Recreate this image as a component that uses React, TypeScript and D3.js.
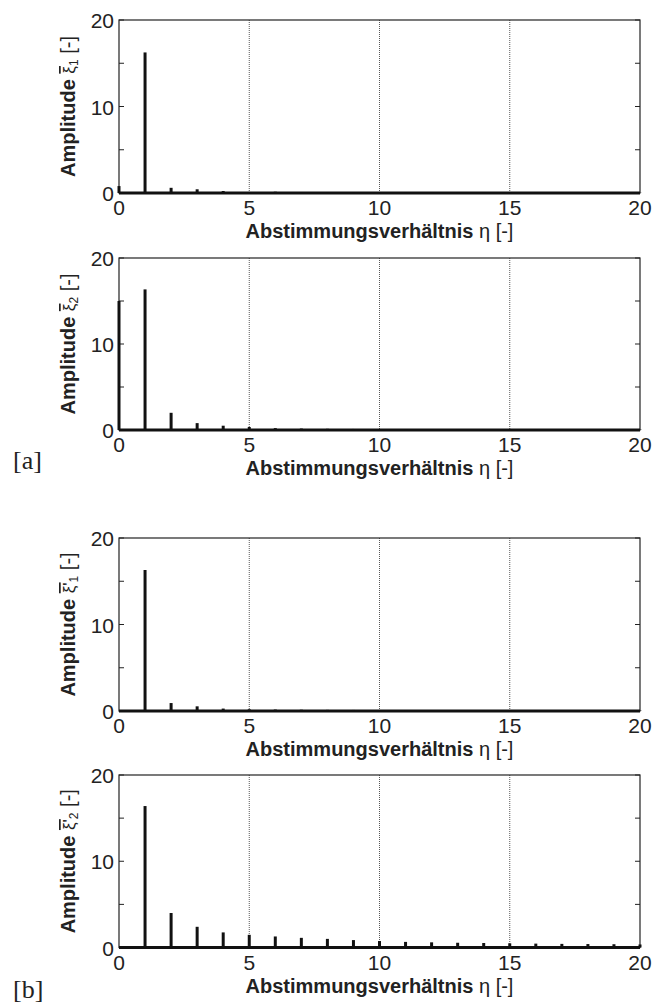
import React from "react";
import * as d3 from "d3";

const etaValues: number[] = d3.range(0, 21);
const xTicks: number[] = [0, 5, 10, 15, 20];
const yTicks: number[] = [0, 10, 20];
const yMinorTicks: number[] = [5, 15];
const gridX: number[] = [5, 10, 15];

const amp1a: number[] = [0.8, 16.25, 0.6, 0.43, 0.23, 0.12, 0.15, 0.08, 0.07, 0.06, 0.05, 0.05, 0.04, 0.04, 0.04, 0.03, 0.03, 0.03, 0.03, 0.03, 0.03];
const amp2a: number[] = [15.0, 16.35, 2.0, 0.8, 0.5, 0.35, 0.22, 0.17, 0.14, 0.12, 0.1, 0.09, 0.08, 0.07, 0.07, 0.06, 0.06, 0.05, 0.05, 0.05, 0.05];
const amp1b: number[] = [0, 16.3, 0.92, 0.54, 0.28, 0.2, 0.17, 0.15, 0.13, 0.12, 0.1, 0.09, 0.08, 0.08, 0.07, 0.07, 0.06, 0.06, 0.06, 0.05, 0.05];
const amp2b: number[] = [0, 16.4, 4.0, 2.4, 1.75, 1.47, 1.28, 1.12, 1.0, 0.86, 0.75, 0.65, 0.6, 0.55, 0.52, 0.48, 0.45, 0.42, 0.4, 0.38, 0.35];

const xTitleBold = "Abstimmungsverhältnis";
const xTitleRest = " η [-]";

type PanelDef = { top: number; bottom: number; values: number[]; prime: boolean; sub: string };

const panels: PanelDef[] = [
  { top: 20, bottom: 193, values: amp1a, prime: false, sub: "1" },
  { top: 258, bottom: 430, values: amp2a, prime: false, sub: "2" },
  { top: 538, bottom: 711, values: amp1b, prime: true, sub: "1" },
  { top: 775, bottom: 947.5, values: amp2b, prime: true, sub: "2" },
];

const LEFT = 119;
const RIGHT = 640;
const FONT = "Liberation Sans, Arial, sans-serif";

function Panel({ p }: { p: PanelDef }) {
  const x = d3.scaleLinear().domain([0, 20]).range([LEFT, RIGHT]);
  const y = d3.scaleLinear().domain([0, 20]).range([p.bottom, p.top]);
  const midY = (p.top + p.bottom) / 2;
  return (
    <g>
      {gridX.map((g) => (
        <line key={"g" + g} x1={x(g)} x2={x(g)} y1={y(20)} y2={y(0)} stroke="#444" strokeWidth={0.9} strokeDasharray="1,1" />
      ))}
      <rect x={LEFT} y={p.top} width={RIGHT - LEFT} height={p.bottom - p.top} fill="none" stroke="#222" strokeWidth={1.2} />
      {yMinorTicks.concat(yTicks).map((t) => (
        <g key={"t" + t}>
          <line x1={LEFT} x2={LEFT + 5} y1={y(t)} y2={y(t)} stroke="#222" strokeWidth={1} />
          <line x1={RIGHT} x2={RIGHT - 5} y1={y(t)} y2={y(t)} stroke="#222" strokeWidth={1} />
        </g>
      ))}
      <line x1={x(0)} x2={x(20)} y1={y(0)} y2={y(0)} stroke="#111" strokeWidth={3} />
      {etaValues.map((e, i) => (
        <line key={"b" + e} x1={x(e)} x2={x(e)} y1={y(0)} y2={y(p.values[i])} stroke="#111" strokeWidth={3} />
      ))}
      {yTicks.map((t) => (
        <text key={"yl" + t} x={LEFT - 5} y={y(t) + 8} textAnchor="end" fontFamily={FONT} fontSize={21} fill="#222">
          {t}
        </text>
      ))}
      {xTicks.map((t) => (
        <text key={"xl" + t} x={x(t)} y={p.bottom + 22} textAnchor="middle" fontFamily={FONT} fontSize={21} fill="#222">
          {t}
        </text>
      ))}
      <text x={(LEFT + RIGHT) / 2} y={p.bottom + 45} textAnchor="middle" fontFamily={FONT} fontSize={20} fill="#222">
        <tspan fontWeight="bold">{xTitleBold}</tspan>
        <tspan>{xTitleRest}</tspan>
      </text>
      <text transform={`translate(75,${midY}) rotate(-90)`} textAnchor="middle" fontFamily={FONT} fontSize={20} fill="#222">
        <tspan fontWeight="bold">Amplitude </tspan>
        <tspan fontSize={17} style={{ textDecoration: "overline" }}>{p.prime ? "ξ'" : "ξ"}</tspan>
        <tspan fontSize={12} dy={3}>{p.sub}</tspan>
        <tspan dy={-3}> [-]</tspan>
      </text>
    </g>
  );
}

export default function App() {
  return (
    <svg width={652} height={1006} style={{ position: "absolute", left: 0, top: 0, background: "#fff" }}>
      <rect x={0} y={0} width={652} height={1006} fill="#fff" />
      {panels.map((p, i) => (
        <Panel key={i} p={p} />
      ))}
      <text x={13} y={469} fontFamily="Liberation Serif, Times New Roman, serif" fontSize={26} fill="#222">[a]</text>
      <text x={13} y={998} fontFamily="Liberation Serif, Times New Roman, serif" fontSize={26} fill="#222">[b]</text>
    </svg>
  );
}
